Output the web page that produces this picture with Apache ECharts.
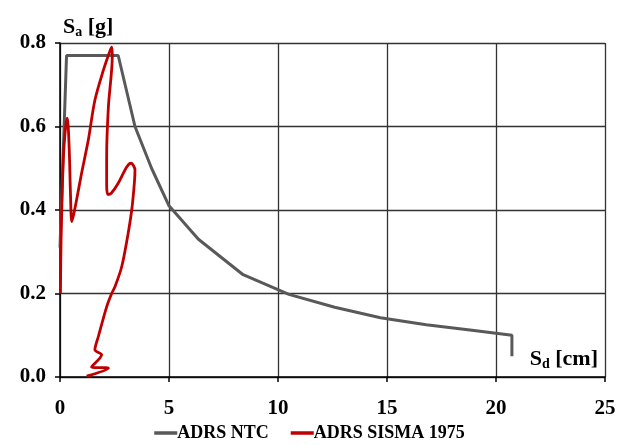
<!DOCTYPE html>
<html>
<head>
<meta charset="utf-8">
<script src="https://cdn.jsdelivr.net/npm/echarts@6/dist/echarts.min.js"></script>
<style>
  html, body { margin: 0; padding: 0; background: #fff; }
  #chart { width: 619px; height: 445px; }
</style>
</head>
<body>
<div id="chart"></div>
<script>
// spettro NTC (Sd [cm], Sa [g])
var ntcPoints = [
    [0, 0.31], [0.3, 0.77], [2.67, 0.77], [3.44, 0.6], [4.2, 0.5], [5.0, 0.41],
    [6.35, 0.33], [8.4, 0.245], [10.5, 0.198], [12.6, 0.167], [14.7, 0.142],
    [16.8, 0.125], [18.9, 0.112], [20.73, 0.1], [20.73, 0.05]
];

// spettro sisma 1975
var sismaPoints = [
    [0.02, 0.2], [0.05, 0.33], [0.15, 0.52], [0.26, 0.6], [0.335, 0.62], [0.42, 0.55],
    [0.48, 0.44], [0.54, 0.372], [0.63, 0.39], [0.76, 0.424], [0.99, 0.488],
    [1.3, 0.568], [1.6, 0.663], [1.99, 0.735], [2.25, 0.775], [2.37, 0.79], [2.4, 0.77],
    [2.22, 0.647], [2.14, 0.527], [2.14, 0.46], [2.2, 0.437], [2.35, 0.44],
    [2.67, 0.464], [3.06, 0.503], [3.26, 0.512], [3.44, 0.496], [3.41, 0.464],
    [3.29, 0.4], [3.1, 0.336], [2.83, 0.264], [2.52, 0.216], [2.37, 0.2],
    [2.14, 0.168], [1.76, 0.097], [1.6, 0.065], [1.91, 0.053], [1.45, 0.024],
    [2.22, 0.021], [1.22, 0.002]
];

var seriesNames = ['ADRS NTC', 'ADRS SISMA 1975'];
var xTicks = [0, 5, 10, 15, 20, 25];
var yTicks = [0, 0.2, 0.4, 0.6, 0.8];

var font = '"Liberation Serif", "Times New Roman", serif';

var chart = echarts.init(document.getElementById('chart'));

chart.setOption({
    backgroundColor: '#fff',
    animation: false,
    grid: { left: 60, right: 14, top: 43, bottom: 68 },
    legend: {
        bottom: -2,
        left: 'center',
        data: seriesNames,
        icon: 'rect',
        itemWidth: 23,
        itemHeight: 3.5,
        itemGap: 22,
        textStyle: {
            fontFamily: font, fontWeight: 'bold', fontSize: 18, color: '#000',
            padding: [0, 0, 0, -5]
        }
    },
    xAxis: {
        type: 'value',
        min: xTicks[0],
        max: xTicks[xTicks.length - 1],
        interval: 5,
        axisLine: { lineStyle: { color: '#000', width: 1.5 } },
        axisTick: { show: true, length: 5, lineStyle: { color: '#000', width: 1.5 } },
        axisLabel: {
            margin: 21,
            fontFamily: font, fontWeight: 'bold', fontSize: 21, color: '#000'
        },
        splitLine: { show: true, lineStyle: { color: '#333', width: 1.3 } }
    },
    yAxis: {
        type: 'value',
        min: yTicks[0],
        max: yTicks[yTicks.length - 1],
        interval: 0.2,
        name: '{s|S}{sub|a}{s| [g]}',
        nameLocation: 'end',
        nameGap: 4,
        nameTextStyle: {
            align: 'left',
            verticalAlign: 'bottom',
            padding: [0, 0, 0, 3],
            rich: {
                s: { fontFamily: font, fontWeight: 'bold', fontSize: 22, color: '#000' },
                sub: { fontFamily: font, fontWeight: 'bold', fontSize: 14, color: '#000', padding: [10, 0, 0, 0] }
            }
        },
        axisLine: { show: true, lineStyle: { color: '#000', width: 1.5 } },
        axisTick: { show: true, length: 5, lineStyle: { color: '#000', width: 1.5 } },
        axisLabel: {
            margin: 14,
            formatter: function (v) { return v.toFixed(1); },
            fontFamily: font, fontWeight: 'bold', fontSize: 21, color: '#000'
        },
        splitLine: { show: true, lineStyle: { color: '#333', width: 1.3 } }
    },
    graphic: [{
        type: 'text',
        right: 21,
        top: 348,
        style: {
            text: '{s|S}{sub|d}{s| [cm]}',
            rich: {
                s: { fontFamily: font, fontWeight: 'bold', fontSize: 22, fill: '#000' },
                sub: { fontFamily: font, fontWeight: 'bold', fontSize: 14, fill: '#000', padding: [10, 0, 0, 0] }
            }
        }
    }],
    series: [{
        name: seriesNames[0],
        type: 'line',
        data: ntcPoints,
        showSymbol: false,
        color: '#595959',
        lineStyle: { color: '#595959', width: 3 },
        z: 2
    }, {
        name: seriesNames[1],
        type: 'line',
        data: sismaPoints,
        smooth: 0.3,
        showSymbol: false,
        color: '#c00000',
        lineStyle: { color: '#c00000', width: 2.8 },
        z: 3
    }]
});
</script>
</body>
</html>
